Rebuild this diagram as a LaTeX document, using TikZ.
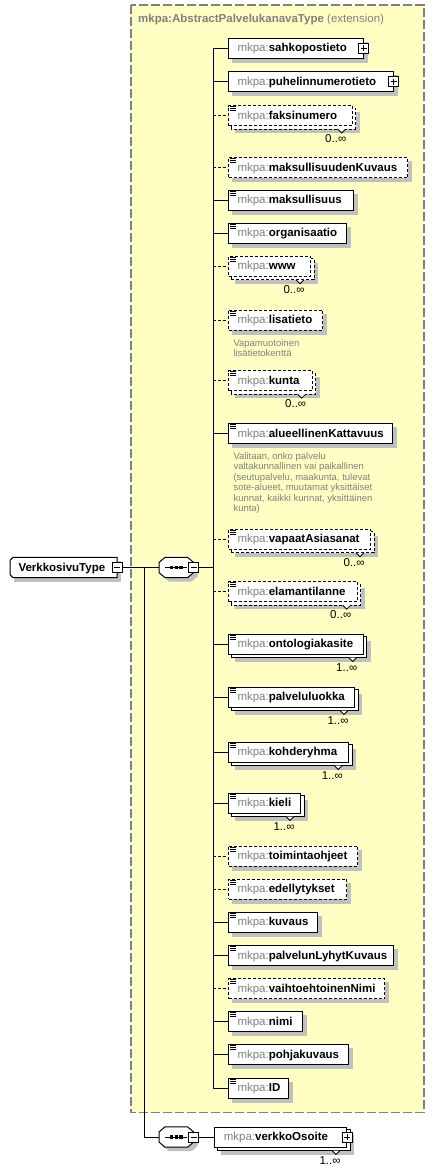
\documentclass[tikz,border=0pt]{standalone}
\usepackage{fontspec}
\setmainfont{Liberation Sans}
\pgfdeclarelayer{bg}
\pgfdeclarelayer{shad}
\pgfsetlayers{bg,shad,main}
\definecolor{ybg}{RGB}{255,255,196}
\definecolor{ybd}{RGB}{128,128,128}
\definecolor{shd}{RGB}{192,192,192}
\definecolor{pfx}{RGB}{128,128,128}
\newcommand\mkp{\textcolor{pfx}{mkpa:}}
\newcommand\efont{\fontsize{11.5}{13}\selectfont}
\newcommand\dfont{\fontsize{9.5}{10.5}\selectfont}
\tikzset{
 ebox/.style={rectangle, draw=black, fill=white, line width=1pt, anchor=west, minimum height=20pt, inner xsep=9pt, inner ysep=0pt, font=\efont, text height=9.5pt, text depth=2.5pt},
 eopt/.style={ebox, dash pattern=on 3pt off 2pt},
 bk/.style={draw=black, fill=white, line width=1pt},
 bkd/.style={bk, dash pattern=on 3pt off 2pt},
 sq/.style={rectangle, draw=black, fill=white, line width=0.8pt, minimum size=10pt, inner sep=0pt},
 plusbox/.style={sq, path picture={\draw[line width=0.8pt] ([xshift=2pt]path picture bounding box.west) -- ([xshift=-2pt]path picture bounding box.east) ([yshift=-2pt]path picture bounding box.north) -- ([yshift=2pt]path picture bounding box.south);}},
 minusbox/.style={sq, path picture={\draw[line width=0.8pt] ([xshift=2pt]path picture bounding box.west) -- ([xshift=-2pt]path picture bounding box.east);}},
 conn/.style={line width=1pt},
 dconn/.style={line width=1pt, dash pattern=on 3pt off 2pt},
 mult/.style={font=\efont, inner sep=0pt, text height=9.5pt, text depth=2.5pt},
 doc/.style={anchor=north west, font=\dfont, text=pfx, align=left, inner sep=0pt},
 hold/.style={rectangle, draw=none, inner sep=0pt, minimum height=20pt}
}
% element box: name, y, right x, style, label
\newcommand\El[5]{%
  \pgfmathsetmacro\elw{#3-228-18}%
  \node[#4] (#1) at (228,#2) {\makebox[\elw pt][l]{\mkp\textbf{#5}}};%
}
% single shadow
\newcommand\Sh[1]{\begin{pgfonlayer}{shad}\fill[shd] ([shift={(4pt,-4pt)}]#1.south west) rectangle ([shift={(4pt,-4pt)}]#1.north east);\end{pgfonlayer}}
% stacked copy + shadow
\newcommand\St[2]{\begin{pgfonlayer}{shad}\fill[shd] ([shift={(7pt,-7pt)}]#1.south west) rectangle ([shift={(7pt,-7pt)}]#1.north east);\draw[#2] ([shift={(3pt,-3pt)}]#1.south west) rectangle ([shift={(3pt,-3pt)}]#1.north east);\end{pgfonlayer}}
% simple-content icon
\newcommand\Ic[1]{\draw[line width=0.9pt] ([xshift=2pt,yshift=-1.5pt]#1.north west) -- ++(5.5pt,0pt) ([xshift=2pt,yshift=-3.5pt]#1.north west) -- ++(5.5pt,0pt) ([xshift=2pt,yshift=-5.5pt]#1.north west) -- ++(5.5pt,0pt);}
% notch under stacked box
\newcommand\No[1]{\filldraw[fill=white, line width=0.8pt] ([xshift=-15pt,yshift=-3pt]#1.south east) -- ++(4pt,-4pt) -- ++(4pt,4pt);}
% multiplicity
\newcommand\Mu[2]{\node[mult] (#1m) at ([xshift=-17pt,yshift=-23.5pt]#1.east) {#2};}
% sequence compositor outline + shadow
\newcommand\SeqShape[1]{\begin{pgfonlayer}{shad}
 \fill[shd] ([shift={(10pt,-4pt)}]#1.north west) -- ([shift={(-2pt,-4pt)}]#1.north east) -- ([shift={(4pt,-9pt)}]#1.north east) -- ([shift={(4pt,1pt)}]#1.south east) -- ([shift={(-2pt,-4pt)}]#1.south east) -- ([shift={(10pt,-4pt)}]#1.south west) -- ([shift={(4pt,1pt)}]#1.south west) -- ([shift={(4pt,-9pt)}]#1.north west) -- cycle;
 \draw[bk] ([xshift=6pt]#1.north west) -- ([xshift=-6pt]#1.north east) -- ([yshift=-5pt]#1.north east) -- ([yshift=5pt]#1.south east) -- ([xshift=-6pt]#1.south east) -- ([xshift=6pt]#1.south west) -- ([yshift=5pt]#1.south west) -- ([yshift=-5pt]#1.north west) -- cycle;
 \end{pgfonlayer}
 \draw[line width=1pt] ([xshift=-11pt]#1.center) -- ([xshift=11pt]#1.center);
 \foreach \d in {-4.8,0,4.8} \fill ([xshift=\d pt]#1.center) ++(-1.7pt,-1.6pt) rectangle ++(3.4pt,3.2pt);
}
\begin{document}
\begin{tikzpicture}[x=1pt,y=-1pt]
\useasboundingbox (0,0) rectangle (435,1172);
% extension area
\begin{pgfonlayer}{bg}
\draw[fill=ybg, draw=ybd, line width=1.3pt, dash pattern=on 9pt off 3pt] (131,5) rectangle (424,1112.7);
\end{pgfonlayer}
\node[anchor=west, inner sep=0pt, font=\efont, text=pfx, text height=9.5pt, text depth=2.5pt] (title) at (138,19) {\textbf{mkpa:AbstractPalvelukanavaType} (extension)};

% root
\node[hold, anchor=west, minimum width=106.6pt, inner xsep=8.3pt, font=\efont, text height=9.5pt, text depth=2.5pt] (root) at (10,567.5) {\makebox[90pt][l]{\textbf{VerkkosivuType}}};
\begin{pgfonlayer}{shad}
\fill[shd] ([shift={(4pt,-4pt)}]root.south west) rectangle ([shift={(4pt,-4pt)}]root.north east);
\draw[bk] ([xshift=3pt]root.north west) -- (root.north east) -- (root.south east) -- ([xshift=3pt]root.south west) -- ([yshift=3pt]root.south west) -- ([yshift=-3pt]root.north west) -- cycle;
\end{pgfonlayer}
\node[minusbox] (rootm) at (root.east) {};

% sequence 1
\node[hold, minimum width=34pt] (seq) at (176.3,567.5) {};
\SeqShape{seq}
\node[minusbox] (seqm) at (seq.east) {};
\coordinate (vx) at (213.3,567.5);
\coordinate (jn) at (144.3,567.5);

% elements
\El{sahk}{48.3}{362.7}{ebox}{sahkopostieto}\Sh{sahk}\node[plusbox] (sahkp) at (sahk.east) {};
\El{puhe}{81.7}{392.7}{ebox}{puhelinnumerotieto}\Sh{puhe}\node[plusbox] (puhep) at (puhe.east) {};
\El{faks}{115.5}{351.7}{eopt}{faksinumero}\St{faks}{bkd}\Ic{faks}\No{faks}\Mu{faks}{0..∞}
\El{mkuv}{167.5}{407.3}{eopt}{maksullisuudenKuvaus}\Sh{mkuv}\Ic{mkuv}
\El{maks}{200}{352.7}{ebox}{maksullisuus}\Sh{maks}\Ic{maks}
\El{orga}{233.3}{345.7}{ebox}{organisaatio}\Sh{orga}\Ic{orga}
\El{www}{266.3}{310}{eopt}{www}\St{www}{bkd}\Ic{www}\No{www}\Mu{www}{0..∞}
\El{lisa}{320}{322.3}{eopt}{lisatieto}\Sh{lisa}\Ic{lisa}
\node[doc] (lisad) at (233.3,339) {Vapamuotoinen\\lisätietokenttä};
\El{kunt}{380.7}{311.7}{eopt}{kunta}\St{kunt}{bkd}\Ic{kunt}\No{kunt}\Mu{kunt}{0..∞}
\El{alue}{433.7}{391.7}{ebox}{alueellinenKattavuus}\Sh{alue}\Ic{alue}
\node[doc] (alued) at (233.3,452.3) {Valitaan, onko palvelu\\valtakunnallinen vai paikallinen\\(seutupalvelu, maakunta, tulevat\\sote-alueet, muutamat yksittäiset\\kunnat, kaikki kunnat, yksittäinen\\kunta)};
\El{vapa}{539.3}{370}{eopt}{vapaatAsiasanat}\St{vapa}{bkd}\Ic{vapa}\No{vapa}\Mu{vapa}{0..∞}
\El{elam}{591.7}{356.7}{eopt}{elamantilanne}\St{elam}{bkd}\Ic{elam}\No{elam}\Mu{elam}{0..∞}
\El{onto}{644}{362.7}{ebox}{ontologiakasite}\St{onto}{bk}\Ic{onto}\No{onto}\Mu{onto}{1..∞}
\El{palv}{697}{354}{ebox}{palveluluokka}\St{palv}{bk}\Ic{palv}\No{palv}\Mu{palv}{1..∞}
\El{kohd}{752}{348.3}{ebox}{kohderyhma}\St{kohd}{bk}\Ic{kohd}\No{kohd}\Mu{kohd}{1..∞}
\El{kiel}{803}{300}{ebox}{kieli}\St{kiel}{bk}\Ic{kiel}\No{kiel}\Mu{kiel}{1..∞}
\El{toim}{856}{357.3}{eopt}{toimintaohjeet}\Sh{toim}\Ic{toim}
\El{edel}{889.3}{346}{eopt}{edellytykset}\Sh{edel}\Ic{edel}
\El{kuva}{922}{317.3}{ebox}{kuvaus}\Sh{kuva}\Ic{kuva}
\El{plk}{955.7}{393.3}{ebox}{palvelunLyhytKuvaus}\Sh{plk}\Ic{plk}
\El{vaih}{988.5}{384}{eopt}{vaihtoehtoinenNimi}\Sh{vaih}\Ic{vaih}
\El{nimi}{1021.7}{301.7}{ebox}{nimi}\Sh{nimi}\Ic{nimi}
\El{pohj}{1054.5}{347.7}{ebox}{pohjakuvaus}\Sh{pohj}\Ic{pohj}
\El{id}{1088}{287.7}{ebox}{ID}\Sh{id}\Ic{id}

% connectors of sequence 1
\draw[conn] (rootm.east) -- (seq.west);
\draw[conn] (seqm.east) -- (vx);
\draw[conn] (vx |- sahk.west) -- (vx |- id.west);
\foreach \n in {sahk,puhe,maks,orga,alue,onto,palv,kohd,kiel,kuva,plk,nimi,pohj,id}
  \draw[conn] (vx |- \n.west) -- (\n.west);
\foreach \n in {faks,mkuv,www,lisa,kunt,vapa,elam,toim,edel,vaih}
  \draw[dconn] (vx |- \n.west) -- (\n.west);

% sequence 2
\node[hold, minimum width=34pt] (seq2) at (176.3,1137) {};
\SeqShape{seq2}
\node[minusbox] (seq2m) at (seq2.east) {};
\node[ebox] (verk) at (214.3,1137) {\makebox[113.7pt][l]{\mkp\textbf{verkkoOsoite}}};
\St{verk}{bk}\No{verk}\Mu{verk}{1..∞}
\node[plusbox] (verkp) at (verk.east) {};
\draw[conn] (jn) |- (seq2.west);
\draw[conn] (seq2m.east) -- (verk.west);
\end{tikzpicture}
\end{document}
